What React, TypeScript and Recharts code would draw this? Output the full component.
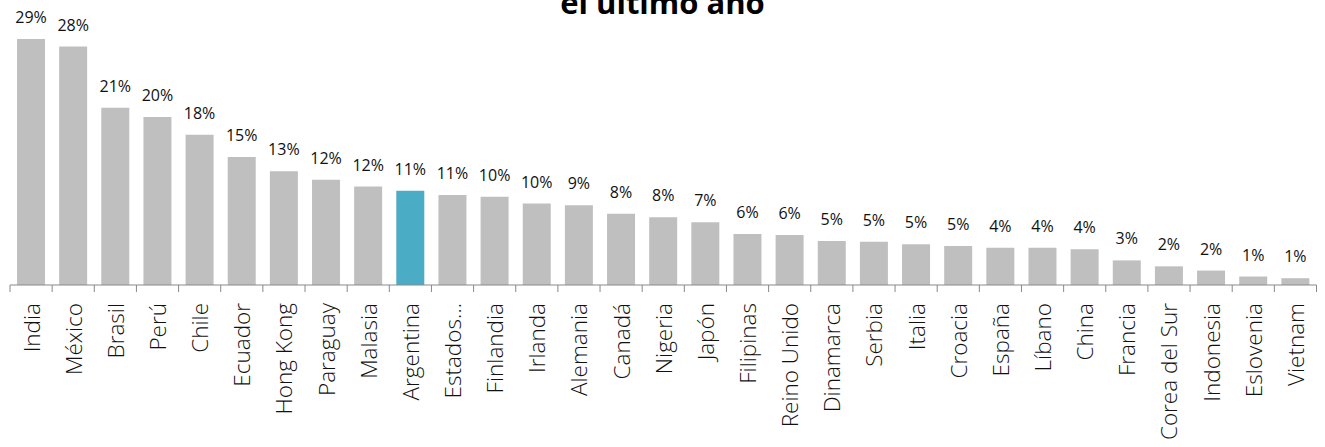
import { BarChart, Bar, XAxis, YAxis, Cell, LabelList } from 'recharts';

const countries = [
  'India', 'México', 'Brasil', 'Perú', 'Chile', 'Ecuador', 'Hong Kong', 'Paraguay', 'Malasia', 'Argentina',
  'Estados…', 'Finlandia', 'Irlanda', 'Alemania', 'Canadá', 'Nigeria', 'Japón', 'Filipinas', 'Reino Unido',
  'Dinamarca', 'Serbia', 'Italia', 'Croacia', 'España', 'Líbano', 'China', 'Francia', 'Corea del Sur',
  'Indonesia', 'Eslovenia', 'Vietnam',
];

const shares = [
  29.0, 28.1, 20.9, 19.8, 17.7, 15.1, 13.4, 12.4, 11.6, 11.1,
  10.6, 10.4, 9.6, 9.4, 8.4, 8.0, 7.4, 6.0, 5.9,
  5.2, 5.1, 4.8, 4.6, 4.4, 4.4, 4.2, 2.9, 2.2,
  1.7, 1.0, 0.8,
];

const highlighted = 'Argentina';
const titleText = 'el último año';

const data = countries.map((name, i) => ({ name, value: shares[i] }));

const FONT = '"Open Sans", "DejaVu Sans", sans-serif';

// ticks sit on the category edges (excel style), labels at the centre
function CountryTick(props: any) {
  const { x, y, payload, index } = props;
  const half = payload && payload.offset ? payload.offset : 21.08;
  const axisY = y - 7;
  return (
    <g>
      <line x1={x - half} x2={x - half} y1={axisY} y2={axisY + 7} stroke="#898989" strokeWidth={1} />
      {index === countries.length - 1 && (
        <line x1={x + half} x2={x + half} y1={axisY} y2={axisY + 7} stroke="#898989" strokeWidth={1} />
      )}
      <text
        transform={`translate(${x},${y + 11}) rotate(-90)`}
        textAnchor="end"
        dominantBaseline="central"
        fontFamily={FONT}
        fontSize={22.5}
        fontWeight={300}
        fill="#111"
      >
        {payload.value}
      </text>
    </g>
  );
}

export default function App() {
  return (
    <div style={{ position: 'absolute', left: 0, top: 0, width: 1325, height: 447, background: '#fff' }}>
      <svg width={1325} height={40} style={{ position: 'absolute', left: 0, top: 0 }}>
        <text x={662.5} y={14} textAnchor="middle" fontFamily={FONT} fontWeight={700} fontSize={31} fill="#000">
          {titleText}
        </text>
      </svg>
      <BarChart
        width={1325}
        height={447}
        data={data}
        margin={{ top: 30.5, right: 8.5, left: 10, bottom: 0 }}
      >
        <XAxis
          dataKey="name"
          interval={0}
          height={162}
          tickSize={7}
          tickMargin={0}
          tickLine={false}
          axisLine={{ stroke: '#898989', strokeWidth: 1 }}
          tick={<CountryTick />}
        />
        <YAxis hide domain={[0, 30]} />
        <Bar dataKey="value" barSize={28} isAnimationActive={false}>
          {data.map((d) => (
            <Cell key={d.name} fill={d.name === highlighted ? '#4BACC6' : '#BFBFBF'} />
          ))}
          <LabelList
            dataKey="value"
            position="top"
            offset={16}
            formatter={(v: any) => `${Math.round(Number(v))}%`}
            fill="#111"
            fontSize={16}
            fontFamily={FONT}
          />
        </Bar>
      </BarChart>
    </div>
  );
}
